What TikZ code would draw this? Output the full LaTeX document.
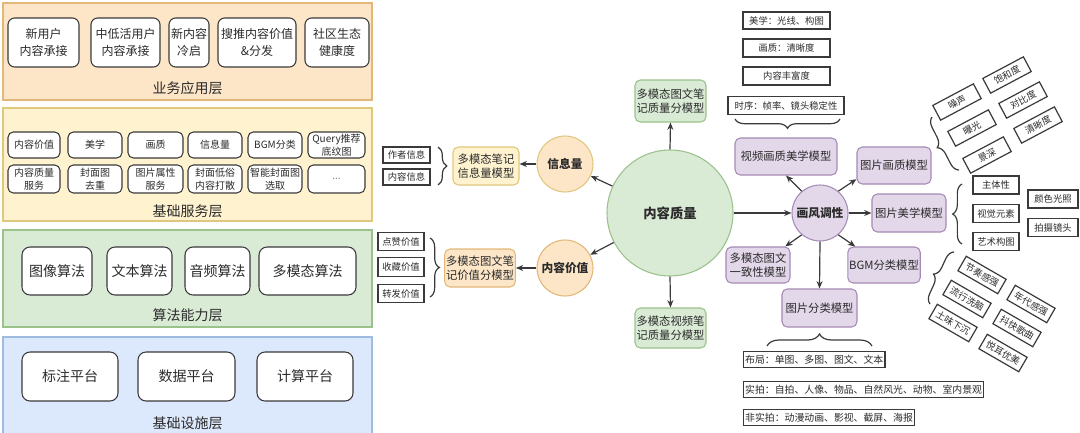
\documentclass[tikz,border=0pt]{standalone}
\usepackage{fontspec}
\setmainfont{Noto Sans CJK SC}
\usetikzlibrary{arrows.meta,decorations.pathreplacing}
\definecolor{oFill}{HTML}{FDE6C8}
\definecolor{oLine}{HTML}{E2B77A}
\definecolor{yFill}{HTML}{FEF2CF}
\definecolor{yLine}{HTML}{E0C77E}
\definecolor{gFill}{HTML}{D9EAD5}
\definecolor{gLine}{HTML}{9CC28C}
\definecolor{bFill}{HTML}{DCE8FB}
\definecolor{bLine}{HTML}{9FBBE0}
\definecolor{pFill}{HTML}{E3D7EA}
\definecolor{pLine}{HTML}{A58BB5}
\definecolor{ink}{HTML}{2B2B2B}
\definecolor{edge}{HTML}{3A3A3A}
\begin{document}
\begin{tikzpicture}[x=0.75pt,y=-0.75pt,
  layer/.style={line width=0.8pt, inner sep=0pt},
  lbl/.style={text=ink, font=\fontsize{10.5}{12}\selectfont, inner sep=0pt},
  wbox/.style={draw=edge, fill=white, rounded corners=5pt, line width=0.8pt, align=center, text=ink, inner sep=1pt},
  fa/.style={font=\fontsize{9}{12.5}\selectfont},
  fb/.style={font=\fontsize{7.5}{10}\selectfont},
  fc/.style={font=\fontsize{10.5}{12}\selectfont},
  model/.style={draw, rounded corners=4pt, line width=0.8pt, align=center, text=ink, inner sep=1pt, font=\fontsize{8.5}{10.5}\selectfont},
  circ/.style={circle, draw, line width=0.8pt, inner sep=0pt, text=ink, font=\bfseries\fontsize{8.8}{10}\selectfont},
  tag/.style={draw=edge, fill=white, line width=0.9pt, text=ink, inner sep=1pt, font=\fontsize{7}{8}\selectfont},
  ltag/.style={draw=edge, fill=white, line width=0.9pt, text=ink, inner xsep=1.2pt, inner ysep=2.6pt, anchor=west, font=\fontsize{7.4}{8}\selectfont},
  rtag/.style={tag, minimum width=34.5pt, minimum height=12.5pt, inner sep=0pt},
  arr/.style={draw=edge, line width=0.9pt, -{Stealth[length=5.5pt,width=4.5pt]}},
  brc/.style={draw=edge, line width=0.9pt, decorate, decoration={brace, amplitude=#1}},
  brc/.default=6pt
]
\useasboundingbox (0,0) rectangle (1080,432);

% ---------------- left: layers ----------------
\node[layer, fill=oFill, draw=oLine, minimum width=276.75pt, minimum height=72.75pt] (L1) at (187.5,51.5) {};
\node[layer, fill=yFill, draw=yLine, minimum width=276.75pt, minimum height=84.75pt] (L2) at (187.5,164.5) {};
\node[layer, fill=gFill, draw=gLine, minimum width=276.75pt, minimum height=72.75pt] (L3) at (187.5,278.5) {};
\node[layer, fill=bFill, draw=bLine, minimum width=276.75pt, minimum height=75pt] (L4) at (187.5,387) {};

\node[lbl] (L1t) at (187.5,88) {业务应用层};
\node[lbl] (L2t) at (187.5,211) {基础服务层};
\node[lbl] (L3t) at (187.5,315) {算法能力层};
\node[lbl] (L4t) at (187.5,423) {基础设施层};

% layer 1
\node[wbox, fa, minimum width=53.25pt, minimum height=36.75pt] (a1) at (43.5,42.5) {新用户\\内容承接};
\node[wbox, fa, minimum width=51.75pt, minimum height=36.75pt] (a2) at (125.5,42.5) {中低活用户\\内容承接};
\node[wbox, fa, minimum width=30pt, minimum height=36.75pt] (a3) at (189,42.5) {新内容\\冷启};
\node[wbox, fa, minimum width=58.5pt, minimum height=36.75pt] (a4) at (257,42.5) {搜推内容价值\\\&分发};
\node[wbox, fa, minimum width=48pt, minimum height=36.75pt] (a5) at (337,42.5) {社区生态\\健康度};

% layer 2
\tikzset{r1/.style={wbox, fb, rounded corners=4pt, minimum height=19.5pt}, r2/.style={wbox, fb, rounded corners=4pt, minimum height=21pt}}
\node[r1, minimum width=39pt] (s1) at (34,145) {内容价值};
\node[r1, minimum width=40.5pt] (s2) at (95,145) {美学};
\node[r1, minimum width=41.25pt] (s3) at (155.5,145) {画质};
\node[r1, minimum width=40.5pt] (s4) at (215,145) {信息量};
\node[r1, minimum width=40.5pt] (s5) at (275,145) {BGM分类};
\node[r1, minimum width=42.75pt] (s6) at (336.5,145) {Query推荐\\底纹图};
\node[r2, minimum width=39pt] (t1) at (34,179) {内容质量\\服务};
\node[r2, minimum width=40.5pt] (t2) at (95,179) {封面图\\去重};
\node[r2, minimum width=41.25pt] (t3) at (155.5,179) {图片属性\\服务};
\node[r2, minimum width=40.5pt] (t4) at (215,179) {封面低俗\\内容打散};
\node[r2, minimum width=40.5pt] (t5) at (275,179) {智能封面图\\选取};
\node[r2, minimum width=42.75pt, text=gray] (t6) at (336.5,179) {...};

% layer 3
\node[wbox, fc, rounded corners=6pt, minimum width=52.5pt, minimum height=36pt] (c1) at (57,271) {图像算法};
\node[wbox, fc, rounded corners=6pt, minimum width=48.75pt, minimum height=36pt] (c2) at (139.5,271) {文本算法};
\node[wbox, fc, rounded corners=6pt, minimum width=48.75pt, minimum height=36pt] (c3) at (217.5,271) {音频算法};
\node[wbox, fc, rounded corners=6pt, minimum width=72.75pt, minimum height=36pt] (c4) at (307.5,271) {多模态算法};

% layer 4
\node[wbox, fc, rounded corners=6pt, minimum width=72pt, minimum height=36.75pt] (d1) at (70,376.5) {标注平台};
\node[wbox, fc, rounded corners=6pt, minimum width=72.75pt, minimum height=36.75pt] (d2) at (186.5,376.5) {数据平台};
\node[wbox, fc, rounded corners=6pt, minimum width=72pt, minimum height=36.75pt] (d3) at (305,376.5) {计算平台};

% ---------------- middle ----------------
\node[circ, fill=gFill, draw=gLine, minimum size=94.5pt, font=\bfseries\fontsize{10}{12}\selectfont] (Q) at (670,213) {内容质量};
\node[model, fill=gFill, draw=gLine, minimum width=53.25pt, minimum height=31.5pt] (QT) at (670.5,101) {多模态图文笔\\记质量分模型};
\node[model, fill=gFill, draw=gLine, minimum width=53.25pt, minimum height=30pt] (QB) at (670.5,328) {多模态视频笔\\记质量分模型};

\node[circ, fill=oFill, draw=yLine, minimum size=42pt] (I) at (565,164) {信息量};
\node[model, fill=yFill, draw=yLine, minimum width=49.5pt, minimum height=28.5pt] (IM) at (486,166) {多模态笔记\\信息量模型};
\node[tag, minimum width=35.25pt, minimum height=12pt] (i1) at (406.5,155) {作者信息};
\node[tag, minimum width=35.25pt, minimum height=12pt] (i2) at (406.5,177) {内容信息};

\node[circ, fill=oFill, draw=oLine, minimum size=42pt] (V) at (565,268) {内容价值};
\node[model, fill=oFill, draw=oLine, minimum width=52.5pt, minimum height=28.5pt] (VM) at (480,268) {多模态图文笔\\记价值分模型};
\node[tag, minimum width=34.5pt, minimum height=14pt] (v1) at (401,241.5) {点赞价值};
\node[tag, minimum width=34.5pt, minimum height=14pt] (v2) at (401,267) {收藏价值};
\node[tag, minimum width=34.5pt, minimum height=14pt] (v3) at (401,293.5) {转发价值};

\draw[arr] (Q.north) -- (QT.south);
\draw[arr] (Q.south) -- (QB.north);
\draw[arr] (Q) -- (I);
\draw[arr] (Q) -- (V);
\draw[arr] (I.west) -- (I.west -| IM.east);
\draw[arr] (V.west) -- (V.west -| VM.east);

\coordinate (ib1) at (438,147);
\coordinate (ib2) at (438,185);
\draw[brc=6.5pt] (ib1) -- (ib2);
\coordinate (vb1) at (430,238);
\coordinate (vb2) at (430,297);
\draw[brc=7pt] (vb1) -- (vb2);

% ---------------- right ----------------
\node[circ, fill=pFill, draw=pLine, minimum size=42pt] (S) at (820,213) {画风调性};
\node[model, fill=pFill, draw=pLine, minimum width=76.5pt, minimum height=27.75pt] (VA) at (786,156.5) {视频画质美学模型};
\node[model, fill=pFill, draw=pLine, minimum width=55.5pt, minimum height=27.75pt] (PQ) at (894,165.5) {图片画质模型};
\node[model, fill=pFill, draw=pLine, minimum width=55.5pt, minimum height=28.5pt] (PA) at (909,213) {图片美学模型};
\node[model, fill=pFill, draw=pLine, minimum width=54pt, minimum height=27pt] (BG) at (884,265) {BGM分类模型};
\node[model, fill=pFill, draw=pLine, minimum width=56.25pt, minimum height=28.5pt] (PC) at (819.5,308) {图片分类模型};
\node[model, fill=pFill, draw=pLine, minimum width=48pt, minimum height=27pt] (MC) at (758,265) {多模态图文\\一致性模型};

\draw[arr] (Q.east) -- (S.west);
\draw[arr] (S.130) -- (VA.south);
\draw[arr] (S.50) -- (PQ.200);
\draw[arr] (S.east) -- (PA.west);
\draw[arr] (S.-50) -- ([xshift=6pt]BG.north west);
\draw[arr] (S.south) -- (PC.north);
\draw[arr] (S.-130) -- ([xshift=-4pt]MC.north east);

% video aesthetics tags
\node[tag, minimum width=65.25pt, minimum height=12.75pt] (w1) at (786.5,20.5) {美学：光线、构图};
\node[tag, minimum width=65.25pt, minimum height=13.5pt] (w2) at (786.5,48) {画质：清晰度};
\node[tag, minimum width=65.25pt, minimum height=13.5pt] (w3) at (786.5,76) {内容丰富度};
\node[tag, minimum width=87pt, minimum height=14pt] (w4) at (786,105.5) {时序：帧率、镜头稳定性};
\coordinate (wb1) at (840,119);
\coordinate (wb2) at (735,119);
\draw[brc=7pt] (wb1) -- (wb2);

% picture quality tags (rotated)
\node[rtag, rotate=28] (q1) at (957,102) {噪声};
\node[rtag, rotate=28] (q2) at (972,128) {曝光};
\node[rtag, rotate=28] (q3) at (987,155) {景深};
\node[rtag, rotate=28] (q4) at (1007,75) {饱和度};
\node[rtag, rotate=28] (q5) at (1023,100) {对比度};
\node[rtag, rotate=28] (q6) at (1038,125) {清晰度};
\coordinate (qb1) at (959,170);
\coordinate (qb2) at (932,117);
\draw[brc=7pt] (qb1) -- (qb2);

% picture aesthetics tags
\node[tag, minimum width=34.5pt, minimum height=13.5pt] (p1) at (996,185) {主体性};
\node[tag, minimum width=34.5pt, minimum height=13.5pt] (p2) at (996,213.5) {视觉元素};
\node[tag, minimum width=34.5pt, minimum height=13.5pt] (p3) at (996,241.5) {艺术构图};
\node[tag, minimum width=37.5pt, minimum height=13.5pt] (p4) at (1053,199) {颜色光照};
\node[tag, minimum width=37.5pt, minimum height=13.5pt] (p5) at (1053,227.5) {拍摄镜头};
\coordinate (pb1) at (962,244);
\coordinate (pb2) at (962,184);
\draw[brc=7pt] (pb1) -- (pb2);

% BGM tags (rotated)
\node[rtag, rotate=-30] (m1) at (982,275) {节奏感强};
\node[rtag, rotate=-30] (m2) at (967,299) {流行洗脑};
\node[rtag, rotate=-30] (m3) at (953,323) {土味下沉};
\node[rtag, rotate=-30] (m4) at (1031,304) {年代感强};
\node[rtag, rotate=-30] (m5) at (1017,328) {抖快歌曲};
\node[rtag, rotate=-30] (m6) at (1003,353) {悦耳优美};
\coordinate (mb1) at (930,304);
\coordinate (mb2) at (954,252);
\draw[brc=7pt] (mb1) -- (mb2);

% picture classification tags
\node[ltag] (k1) at (743,359.5) {布局：单图、多图、图文、文本};
\node[ltag] (k2) at (743,389.5) {实拍：自拍、人像、物品、自然风光、动物、室内景观};
\node[ltag] (k3) at (743,417.5) {非实拍：动漫动画、影视、截屏、海报};
\coordinate (kb1) at (767,346);
\coordinate (kb2) at (872,346);
\draw[brc=9pt] (kb1) -- (kb2);
\end{tikzpicture}
\end{document}
